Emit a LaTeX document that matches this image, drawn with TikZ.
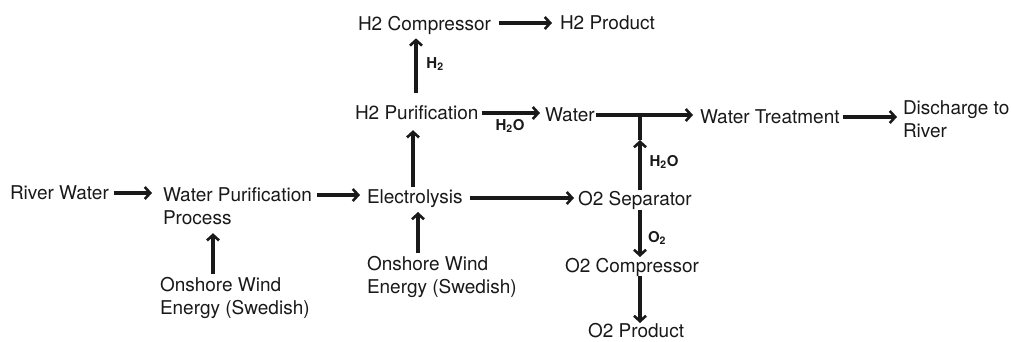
\documentclass[tikz,border=0pt]{standalone}
\usepackage{fontspec}
\setmainfont{TeX Gyre Heros}
\usetikzlibrary{arrows.meta,calc}
\tikzset{
  lbl/.style={anchor=north west,inner sep=0pt,outer sep=0pt,align=left,font=\fontsize{19}{23}\selectfont,text=black!90},
  arr/.style={line width=3.2pt,draw=black!90,-{Straight Barb[length=5.5pt,width=12pt,line width=2.6pt]}},
  ln/.style={line width=3.2pt,draw=black!90},
  chem/.style={inner sep=0pt,font=\bfseries\fontsize{15}{17}\selectfont,text=black!90}
}
\begin{document}
\begin{tikzpicture}[x=1pt,y=-1pt]
\useasboundingbox (0,0) rectangle (1011,341);
\node[lbl] (rw) at (10,186) {River Water};
\node[lbl] (wpp) at (163,188) {Water Purification\\Process};
\node[lbl] (el) at (367,190) {Electrolysis};
\node[lbl] (sep) at (578,191) {O2 Separator};
\node[lbl] (oc) at (565,258) {O2 Compressor};
\node[lbl] (op) at (588,323) {O2 Product};
\node[lbl] (h2p) at (355,106) {H2 Purification};
\node[lbl] (wat) at (545,108) {Water};
\node[lbl] (wt) at (700,110) {Water Treatment};
\node[lbl] (dis) at (903,101) {Discharge to\\River};
\node[lbl] (h2c) at (358,16) {H2 Compressor};
\node[lbl] (h2prod) at (560,16) {H2 Product};
\node[lbl] (ow1) at (160,277) {Onshore Wind\\Energy (Swedish)};
\node[lbl] (ow2) at (367,256) {Onshore Wind\\Energy (Swedish)};
% labels
\node[chem] (lh2) at (435,64) {H\textsubscript{2}};
\node[chem] (lh2o) at (510,126) {H\textsubscript{2}O};
\node[chem] (lh2ob) at (664,162) {H\textsubscript{2}O};
\node[chem] (lo2) at (657,238) {O\textsubscript{2}};
% connectors
\draw[arr] ($(rw.north east)+(5,7)$) coordinate (s1) -- ($(s1 -| wpp.west)+(-11,0)$);
\draw[arr] ($(wpp.north east)+(5,7)$) coordinate (s2) -- ($(s2 -| el.west)+(-7,0)$);
\draw[arr] ($(el.north east)+(7,8)$) coordinate (s3) -- ($(s3 -| sep.west)+(-4,0)$);
\draw[arr] ($(ow1.north west)+(53,-3)$) coordinate (s4) -- ($(s4 |- wpp.south)+(0,8)$);
\draw[arr] ($(ow2.north west)+(51,-3)$) coordinate (s5) -- ($(s5 |- el.south)+(0,4)$);
\draw[arr] ($(el.north west)+(46,-3)$) coordinate (s6) -- ($(s6 |- h2p.south)+(0,10)$);
\draw[arr] ($(h2p.north west)+(61,-13)$) coordinate (s7) -- ($(s7 |- h2c.south)+(0,4)$);
\draw[arr] ($(h2c.north east)+(8,7)$) coordinate (s8) -- ($(s8 -| h2prod.west)+(-8,0)$);
\draw[arr] ($(h2p.north east)+(3,7)$) coordinate (s9) -- ($(s9 -| wat.west)+(-5,0)$);
\coordinate (j) at ($(sep.north west)+(62,-76)$);
\coordinate (jm) at ($(sep.north west)+(62,-51)$);
\draw[ln] ($(j -| wat.east)+(1,0)$) -- (j);
\draw[arr] (j) -- ($(j -| wt.west)+(-7,0)$);
\draw[arr] ($(sep.north west)+(62,-1)$) -- (jm);
\draw[ln] (jm) -- (j);
\draw[arr] ($(sep.south west)+(62,1)$) coordinate (s12) -- ($(s12 |- oc.north)+(0,-1)$);
\draw[arr] ($(oc.south west)+(75,0)$) coordinate (s13) -- (s13 |- op.north);
\draw[arr] ($(wt.north east)+(3,7)$) coordinate (s14) -- ($(s14 -| dis.west)+(-6,0)$);
\end{tikzpicture}
\end{document}
